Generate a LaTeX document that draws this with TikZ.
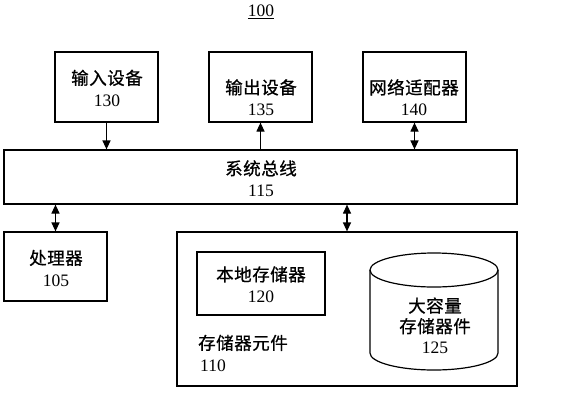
\documentclass[tikz,border=0pt]{standalone}
\usepackage{fontspec}
\setmainfont{Liberation Serif}
\newfontfamily\cjk{Noto Sans CJK SC}[LetterSpace=3,FakeBold=0.8]
\usetikzlibrary{arrows.meta}
\begin{document}
\begin{tikzpicture}[x=1pt,y=-1pt,
  box/.style={draw,line width=1.2pt,inner sep=0pt},
  lbl/.style={align=center,font=\fontsize{17.5}{21.5}\selectfont,inner sep=0pt},
  arr/.style={line width=1.2pt,-{Triangle[length=9pt,width=8pt]}},
  darr/.style={line width=1.2pt,{Triangle[length=9pt,width=8pt]}-{Triangle[length=9pt,width=8pt]}}]
\useasboundingbox (0,0) rectangle (565,400);
% title
\node[lbl] (title) at (261,12) {\underline{100}};
% top boxes
\node[box,minimum width=103pt,minimum height=70pt] (b130) at (106.5,87) {};
\node[box,minimum width=103pt,minimum height=70pt] (b135) at (260.5,87) {};
\node[box,minimum width=103pt,minimum height=70pt] (b140) at (414.5,87) {};
\node[lbl] (t130) at (107,88) {{\cjk 输入设备}\\130};
\node[lbl] (t135) at (261,97.5) {{\cjk 输出设备}\\135};
\node[lbl] (t140) at (414,97.5) {{\cjk 网络适配器}\\140};
% bus
\node[box,minimum width=513pt,minimum height=54pt] (bus) at (260.5,177) {};
\node[lbl] (tbus) at (261,178.5) {{\cjk 系统总线}\\115};
% processor
\node[box,minimum width=103pt,minimum height=69pt] (proc) at (55.5,266.5) {};
\node[lbl] (tproc) at (56,268) {{\cjk 处理器}\\105};
% storage element
\node[box,minimum width=340pt,minimum height=154pt] (stor) at (347,309) {};
\node[lbl,align=left,anchor=west] (tstor) at (198,353) {{\cjk 存储器元件}\\\hspace{2pt}110};
% local memory
\node[box,minimum width=128pt,minimum height=63pt] (local) at (261,283.5) {};
\node[lbl] (tlocal) at (261,284.5) {{\cjk 本地存储器}\\120};
% cylinder
\coordinate (cyltop) at (434,270);
\coordinate (cylbot) at (434,353);
\draw[line width=1.2pt] (cyltop) ellipse [x radius=64, y radius=17];
\draw[line width=1.2pt] ([xshift=-64pt]cyltop) -- ([xshift=-64pt]cylbot)
  arc[start angle=180,end angle=360,x radius=64pt,y radius=17pt]
  -- ([xshift=64pt]cyltop);
\node[lbl,font=\fontsize{17.5}{20.5}\selectfont] (tcyl) at (435,325.5) {{\cjk 大容量}\\{\cjk 存储器件}\\125};
% connectors
\draw[arr] (b130.south) -- (b130.south |- bus.north);
\draw[arr] (b135.south |- bus.north) -- (b135.south);
\draw[darr] (b140.south) -- (b140.south |- bus.north);
\draw[darr] (proc.north) -- (proc.north |- bus.south);
\draw[darr] (stor.north) -- (stor.north |- bus.south);
\end{tikzpicture}
\end{document}
